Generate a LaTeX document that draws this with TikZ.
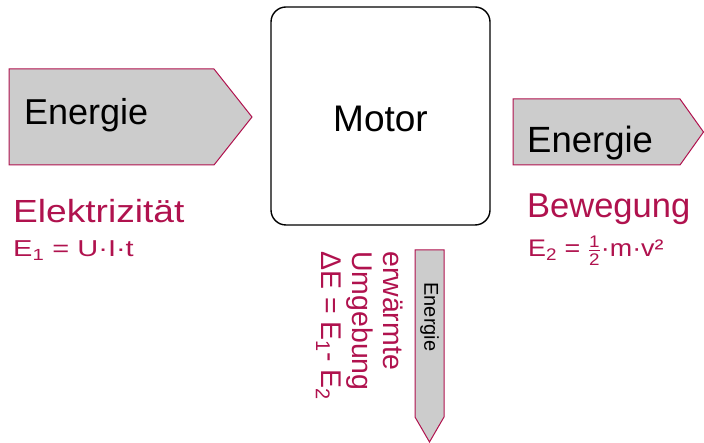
\documentclass[tikz,border=0pt]{standalone}
\usepackage{fontspec}
\usepackage{amsmath}
\usepackage{graphicx}
\setmainfont{Liberation Sans}
\definecolor{rot}{RGB}{176,18,78}
\definecolor{grau}{RGB}{204,204,204}
\begin{document}
\begin{tikzpicture}[x=1pt,y=-1pt,
  pfeil/.style={draw=rot,line width=1pt,fill=grau,line join=miter},
  rottext/.style={text=rot,inner sep=0pt},
  schwarz/.style={text=black,inner sep=0pt}]
\useasboundingbox (0,0) rectangle (704,443);
% left arrow
\draw[pfeil] (9,69) -- (214,69) -- (252,117) -- (214,165) -- (9,165) -- cycle;
\node[schwarz,anchor=base west,font=\fontsize{36}{40}\selectfont] (e1) at (24,125) {Energie};
% right arrow
\draw[pfeil] (513,99) -- (680,99) -- (703.5,132) -- (680,165) -- (513,165) -- cycle;
\node[schwarz,anchor=base west,font=\fontsize{36.5}{40}\selectfont] (e2) at (527,153) {Energie};
% motor
\node[draw=black,line width=1.4pt,rounded corners=15pt,minimum width=219pt,minimum height=218pt,inner sep=0pt] (motor) at (380.5,116) {};
\node[schwarz,anchor=base,font=\fontsize{37}{40}\selectfont] (mt) at (380.5,132) {Motor};
% bottom arrow
\draw[pfeil] (415,250) -- (444,250) -- (444,417) -- (429.5,442) -- (415,417) -- cycle;
\node[schwarz,rotate=-90,font=\fontsize{20}{24}\selectfont] (e3) at (429.5,317) {Energie};
% labels
\node[rottext,anchor=base west,font=\fontsize{32}{40}\selectfont] (el) at (13,223) {\scalebox{1.16}[1]{Elektrizität}};
\node[rottext,anchor=base west,font=\fontsize{23}{26}\selectfont] (f1) at (13,257) {\scalebox{1.26}[1]{E\textsubscript{1} = U·I·t}};
\node[rottext,anchor=base west,font=\fontsize{34.5}{40}\selectfont] (bw) at (527,218) {Bewegung};
\node[rottext,anchor=base west,font=\fontsize{24}{26}\selectfont] (f2) at (528,257) {\scalebox{1.12}[1]{E\textsubscript{2} = $\tfrac{\text{1}}{\text{2}}$·m·v²}};
\node[rottext,rotate=-90,anchor=north west,align=left,font=\fontsize{28.5}{31}\selectfont] (dt) at (403,251) {erwärmte\\Umgebung\\ΔE = E\textsubscript{1}- E\textsubscript{2}};
\end{tikzpicture}
\end{document}
